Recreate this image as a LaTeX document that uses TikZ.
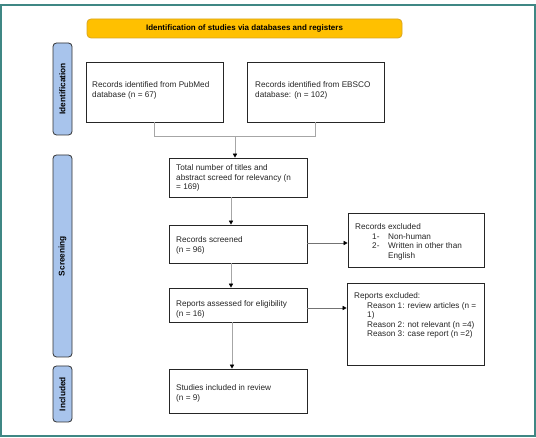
\documentclass[tikz,border=0pt]{standalone}
\usepackage{fontspec}
\setmainfont{Liberation Sans}
\usetikzlibrary{arrows.meta}
\definecolor{frameteal}{HTML}{3F8784}
\definecolor{phaseblue}{HTML}{A8C4EC}
\definecolor{banneryellow}{HTML}{FFC000}
\definecolor{bannerborder}{HTML}{D9A520}
\begin{document}
\begin{tikzpicture}[x=1pt,y=-1pt,
  box/.style={draw=black!85, line width=0.8pt, inner sep=0pt, fill=white},
  phase/.style={draw=black!80, line width=0.8pt, fill=phaseblue, rounded corners=3.5pt, inner sep=0pt, rotate=90, font=\fontsize{8.3}{9}\selectfont\bfseries},
  banner/.style={draw=bannerborder, line width=0.8pt, fill=banneryellow, rounded corners=4pt, inner sep=0pt, font=\fontsize{8}{9}\selectfont\bfseries},
  txt/.style={anchor=north west, inner sep=0pt, align=left, font=\fontsize{8.2}{9.5}\selectfont, text=black!85},
  conn/.style={draw=black!35, line width=0.8pt},
  arr/.style={conn, -{Triangle[length=4pt,width=4.2pt,color=black]}},
  harr/.style={draw=black!55, line width=0.7pt, -{Triangle[length=4pt,width=4.2pt,color=black]}},
  frame/.style={draw=frameteal, line width=2pt}
]
\fill[white] (0,0) rectangle (536,438);
\useasboundingbox (0,0) rectangle (536,438);
\draw[frame] (1,5.5) rectangle (534.5,436.5);

% banner
\node[banner, minimum width=315pt, minimum height=19pt] (ban) at (244.5,28.5) {Identification of studies via databases and registers};

% phase labels
\node[phase, minimum width=92pt, minimum height=19pt] (pid) at (62.5,89) {Identification};
\node[phase, minimum width=202pt, minimum height=19pt] (psc) at (62.5,256) {Screening};
\node[phase, minimum width=56pt, minimum height=19pt] (pin) at (62.5,394) {Included};

% boxes
\node[box, minimum width=137pt, minimum height=60pt] (pub) at (154.5,92) {};
\node[box, minimum width=137pt, minimum height=60pt] (ebs) at (315.5,92) {};
\node[box, minimum width=138pt, minimum height=39pt] (tot) at (238,177.5) {};
\node[box, minimum width=138pt, minimum height=38pt] (scr) at (238,244) {};
\node[box, minimum width=136pt, minimum height=54pt] (rex) at (416,240) {};
\node[box, minimum width=138pt, minimum height=34pt] (ass) at (238,305) {};
\node[box, minimum width=137pt, minimum height=82pt] (rep) at (415.5,324) {};
\node[box, minimum width=138pt, minimum height=44pt] (stu) at (238,391) {};

% texts
\node[txt] (t1) at (92,81.5) {Records identified from PubMed\\database (n = 67)};
\node[txt] (t2) at (255,81.5) {Records identified from EBSCO\\database: (n = 102)};
\node[txt] (t3) at (176,164.5) {Total number of titles and\\abstract screed for relevancy (n\\= 169)};
\node[txt] (t4) at (176,236.5) {Records screened\\(n = 96)};
\node[txt] (t5) at (355,223.5) {Records excluded\\\hspace*{17pt}\makebox[16pt][l]{1-}Non-human\\\hspace*{17pt}\makebox[16pt][l]{2-}Written in other than\\\hspace*{33pt}English};
\node[txt] (t6) at (176,300.5) {Reports assessed for eligibility\\(n = 16)};
\node[txt] (t7) at (354,292.5) {Reports excluded:\\\hspace*{13pt}Reason 1: review articles (n =\\\hspace*{13pt}1)\\\hspace*{13pt}Reason 2: not relevant (n =4)\\\hspace*{13pt}Reason 3: case report (n =2)};
\node[txt] (t8) at (176,384.5) {Studies included in review\\(n = 9)};

% connectors
\coordinate (j) at (235,136.5);
\draw[conn] (pub.south) |- (j) -| (ebs.south);
\draw[arr] (j) -- (j |- tot.north);
\coordinate (a1) at ([xshift=-7pt]tot.south);
\draw[arr] (a1) -- (a1 |- scr.north);
\coordinate (a2) at ([xshift=-7pt]scr.south);
\draw[arr] (a2) -- (a2 |- ass.north);
\coordinate (a3) at ([xshift=-6pt]ass.south);
\draw[arr] (a3) -- (a3 |- stu.north);
\coordinate (h1) at ([yshift=1pt]scr.east);
\draw[harr] (h1) -- (h1 -| rex.west);
\coordinate (h2) at ([yshift=-3pt]ass.east);
\draw[harr] (h2) -- (h2 -| rep.west);
\end{tikzpicture}
\end{document}
